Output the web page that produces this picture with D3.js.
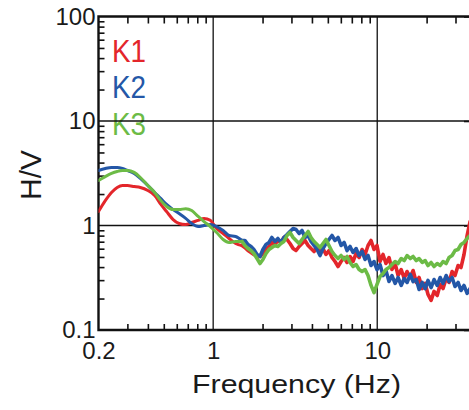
<!DOCTYPE html>
<html>
<head>
<meta charset="utf-8">
<script src="https://cdn.jsdelivr.net/npm/d3@7"></script>
<style>
  html, body { margin: 0; padding: 0; background: #fff; }
  svg { display: block; font-family: "Liberation Sans", Arial, Helvetica, sans-serif; }
</style>
</head>
<body>
<div id="chart"></div>
<script>
// frequencies (Hz), shared by the three stations
const freqs = [
  0.2, 0.22, 0.24, 0.26, 0.28, 0.3, 0.33, 0.36, 0.4, 0.44, 0.48, 0.52,
  0.57, 0.62, 0.68, 0.74, 0.81, 0.88, 0.96, 1.05, 1.15, 1.25, 1.37, 1.5,
  1.56, 1.63, 1.7, 1.77, 1.85, 1.93, 2.01, 2.1, 2.19, 2.28, 2.38, 2.48, 2.59,
  2.7, 2.82, 2.94, 3.07, 3.2, 3.34, 3.48, 3.63, 3.79, 3.95, 4.12, 4.3, 4.48,
  4.67, 4.87, 5.08, 5.3, 5.53, 5.77, 6.02, 6.28, 6.55, 6.83, 7.12, 7.43,
  7.75, 8.08, 8.43, 8.79, 9.17, 9.56, 9.97, 10.4, 10.85, 11.3, 11.8, 12.3,
  12.85, 13.4, 14, 14.6, 15.2, 15.9, 16.55, 17.3, 18, 18.8, 19.6, 20.4,
  21.3, 22.2, 23.2, 24.2, 25.2, 26.3, 27.4, 28.6, 29.8, 31.1, 32.4, 33.8,
  35.3, 36.8, 38.4, 40
];

// H/V ratios
const k1 = [
  1.36, 1.73, 2.07, 2.31, 2.41, 2.41, 2.36, 2.31, 2.16, 1.94, 1.59, 1.36,
  1.14, 1.045, 1.02, 1.07, 1.12, 1.17, 1.12, 0.936, 0.838, 0.751, 0.673, 0.644,
  0.616, 0.576, 0.552, 0.528, 0.516, 0.505, 0.540, 0.589, 0.630, 0.688,
  0.658, 0.719, 0.688, 0.768, 0.735, 0.673, 0.602, 0.576, 0.630, 0.673,
  0.719, 0.644, 0.602, 0.564, 0.630, 0.552, 0.602, 0.528, 0.576, 0.494,
  0.452, 0.405, 0.452, 0.494, 0.443, 0.505, 0.452, 0.540, 0.494, 0.589,
  0.528, 0.644, 0.719, 0.589, 0.644, 0.452, 0.528, 0.433, 0.494, 0.379,
  0.433, 0.332, 0.379, 0.311, 0.363, 0.318, 0.371, 0.285, 0.318, 0.249,
  0.279, 0.219, 0.192, 0.234, 0.214, 0.273, 0.249, 0.311, 0.285, 0.363,
  0.332, 0.414, 0.396, 0.528, 0.802, 1.092, 0.957, 0.876
];
const k2 = [
  3.36, 3.51, 3.59, 3.59, 3.51, 3.36, 3.15, 2.82, 2.41, 2.07, 1.81, 1.59,
  1.42, 1.30, 1.17, 1.045, 0.978, 1.0, 1.02, 0.978, 0.896, 0.802, 0.785, 0.719,
  0.719, 0.658, 0.630, 0.589, 0.528, 0.505, 0.589, 0.658, 0.688, 0.768,
  0.703, 0.751, 0.688, 0.768, 0.820, 0.876, 0.936, 0.916, 0.838, 0.896,
  0.768, 0.802, 0.703, 0.644, 0.589, 0.516, 0.602, 0.673, 0.735, 0.802,
  0.719, 0.768, 0.644, 0.688, 0.576, 0.630, 0.552, 0.602, 0.516, 0.564,
  0.473, 0.516, 0.414, 0.452, 0.379, 0.423, 0.332, 0.371, 0.291, 0.332,
  0.279, 0.318, 0.267, 0.311, 0.285, 0.340, 0.291, 0.304, 0.244, 0.285,
  0.249, 0.298, 0.255, 0.304, 0.267, 0.318, 0.279, 0.332, 0.291, 0.318,
  0.261, 0.285, 0.239, 0.267, 0.224, 0.249, 0.219, 0.244
];
const k3 = [
  2.70, 2.94, 3.15, 3.29, 3.36, 3.36, 3.22, 2.88, 2.41, 2.07, 1.73, 1.52,
  1.42, 1.42, 1.45, 1.39, 1.22, 1.09, 0.978, 0.857, 0.735, 0.688, 0.703, 0.703,
  0.644, 0.602, 0.576, 0.540, 0.483, 0.433, 0.473, 0.540, 0.589, 0.616,
  0.644, 0.630, 0.673, 0.703, 0.802, 0.857, 0.768, 0.719, 0.673, 0.735,
  0.802, 0.876, 0.768, 0.703, 0.658, 0.616, 0.673, 0.735, 0.644, 0.564,
  0.516, 0.483, 0.516, 0.473, 0.505, 0.443, 0.405, 0.423, 0.379, 0.363,
  0.379, 0.332, 0.267, 0.228, 0.273, 0.325, 0.347, 0.379, 0.396, 0.423,
  0.452, 0.433, 0.483, 0.462, 0.516, 0.483, 0.505, 0.462, 0.483, 0.443,
  0.462, 0.414, 0.443, 0.405, 0.433, 0.414, 0.452, 0.433, 0.494, 0.516,
  0.576, 0.589, 0.658, 0.688, 0.751, 0.802, 0.838, 0.876
];

const seriesNames = ["K1", "K2", "K3"];
const seriesColors = ["#e3262b", "#2457a7", "#6cbb46"];
const seriesValues = [k1, k2, k3];

const xLabelTicks = [0.2, 1, 10];
const yLabelTicks = [0.1, 1, 10, 100];
const xMinorTicks = [0.3, 0.4, 0.5, 0.6, 0.7, 0.8, 0.9, 2, 3, 4, 5, 6, 7, 8, 9, 20, 30];
const yMinorTicks = [0.2, 0.3, 0.4, 0.5, 0.6, 0.7, 0.8, 0.9, 2, 3, 4, 5, 6, 7, 8, 9, 20, 30, 40, 50, 60, 70, 80, 90];
const gridValues = [1, 10];

// above this frequency the records get noisy: drawn straight and a bit thicker
const noisyFrom = 1.5;

const width = 469;
const height = 410;
const plot = { left: 98.5, right: 476, top: 16.5, bottom: 330 };

const svg = d3.select("#chart")
  .append("svg")
  .attr("width", width)
  .attr("height", height);

const x = d3.scaleLog().domain([0.2, 40]).range([plot.left, plot.right]);
const y = d3.scaleLog().domain([0.1, 100]).range([plot.bottom, plot.top]);

// legend (drawn first, the 10 grid line runs over K3)
svg.selectAll(".legend")
  .data(seriesNames)
  .enter()
  .append("text")
  .attr("class", "legend")
  .attr("x", 112)
  .attr("y", (d, i) => [62, 98, 135][i])
  .attr("textLength", 34)
  .attr("lengthAdjust", "spacingAndGlyphs")
  .style("font-size", "31px")
  .style("fill", (d, i) => seriesColors[i])
  .text(d => d);

// grid lines
svg.selectAll(".vgrid")
  .data(gridValues)
  .enter()
  .append("line")
  .attr("x1", d => x(d)).attr("x2", d => x(d))
  .attr("y1", plot.top).attr("y2", plot.bottom)
  .attr("stroke", "#111").attr("stroke-width", 1.3);

svg.selectAll(".hgrid")
  .data(gridValues)
  .enter()
  .append("line")
  .attr("x1", plot.left).attr("x2", plot.right)
  .attr("y1", d => y(d)).attr("y2", d => y(d))
  .attr("stroke", "#111").attr("stroke-width", 1.3);

// minor ticks, pointing inwards
function styleTicks(g) {
  g.select(".domain").remove();
  g.selectAll("line").attr("stroke", "#111").attr("stroke-width", 1.6);
}

svg.append("g")
  .attr("transform", `translate(0,${plot.bottom})`)
  .call(d3.axisBottom(x).tickValues(xMinorTicks).tickSize(-6).tickFormat(""))
  .call(styleTicks);

svg.append("g")
  .attr("transform", `translate(0,${plot.top})`)
  .call(d3.axisTop(x).tickValues(xMinorTicks).tickSize(-7).tickFormat(""))
  .call(styleTicks);

svg.append("g")
  .attr("transform", `translate(${plot.left},0)`)
  .call(d3.axisLeft(y).tickValues(yMinorTicks).tickSize(-6).tickFormat(""))
  .call(styleTicks);

svg.append("g")
  .attr("transform", `translate(${plot.right},0)`)
  .call(d3.axisRight(y).tickValues(yLabelTicks).tickSize(-12).tickFormat(""))
  .call(styleTicks);

// frame
svg.append("path")
  .attr("d", `M${plot.right},${plot.top}H${plot.left}V${plot.bottom}H${plot.right}`)
  .attr("fill", "none")
  .attr("stroke", "#111")
  .attr("stroke-width", 2.4);

// tick labels
const fmt = d3.format("~g");

svg.append("g")
  .attr("transform", `translate(${plot.left},0)`)
  .call(d3.axisLeft(y).tickValues(yLabelTicks).tickSize(0).tickPadding(3).tickFormat(fmt))
  .call(g => g.select(".domain").remove())
  .call(g => g.selectAll("text")
    .style("font-size", "24px")
    .style("font-family", "'Liberation Sans', Arial, sans-serif")
    .style("fill", "#1a1a1a"));

svg.append("g")
  .attr("transform", `translate(0,${plot.bottom})`)
  .call(d3.axisBottom(x).tickValues(xLabelTicks).tickSize(0).tickPadding(12).tickFormat(fmt))
  .call(g => g.select(".domain").remove())
  .call(g => g.selectAll("text")
    .style("font-size", "24px")
    .style("font-family", "'Liberation Sans', Arial, sans-serif")
    .style("fill", "#1a1a1a"));

// axis titles
svg.append("text")
  .attr("x", 296.5)
  .attr("y", 393)
  .attr("text-anchor", "middle")
  .attr("textLength", 209)
  .attr("lengthAdjust", "spacingAndGlyphs")
  .style("font-size", "26px")
  .style("fill", "#1a1a1a")
  .text("Frequency (Hz)");

svg.append("text")
  .attr("transform", "translate(40.5,175) rotate(-90)")
  .attr("text-anchor", "middle")
  .style("font-size", "30px")
  .style("fill", "#1a1a1a")
  .text("H/V");

// curves
svg.append("clipPath")
  .attr("id", "plot-clip")
  .append("rect")
  .attr("x", plot.left).attr("y", plot.top)
  .attr("width", plot.right - plot.left).attr("height", plot.bottom - plot.top);

const smoothLine = d3.line()
  .x(d => x(d[0]))
  .y(d => y(d[1]))
  .curve(d3.curveMonotoneX);

const noisyLine = d3.line()
  .x(d => x(d[0]))
  .y(d => y(d[1]));

seriesValues.forEach((vals, i) => {
  const pts = freqs.map((f, j) => [f, vals[j]]);
  const g = svg.append("g")
    .attr("clip-path", "url(#plot-clip)")
    .attr("fill", "none")
    .attr("stroke", seriesColors[i])
    .attr("stroke-linejoin", "round")
    .attr("stroke-linecap", "round");

  g.append("path")
    .datum(pts.filter(d => d[0] <= noisyFrom))
    .attr("stroke-width", 3)
    .attr("d", smoothLine);

  g.append("path")
    .datum(pts.filter(d => d[0] >= noisyFrom))
    .attr("stroke-width", 3.6)
    .attr("d", noisyLine);
});
</script>
</body>
</html>
